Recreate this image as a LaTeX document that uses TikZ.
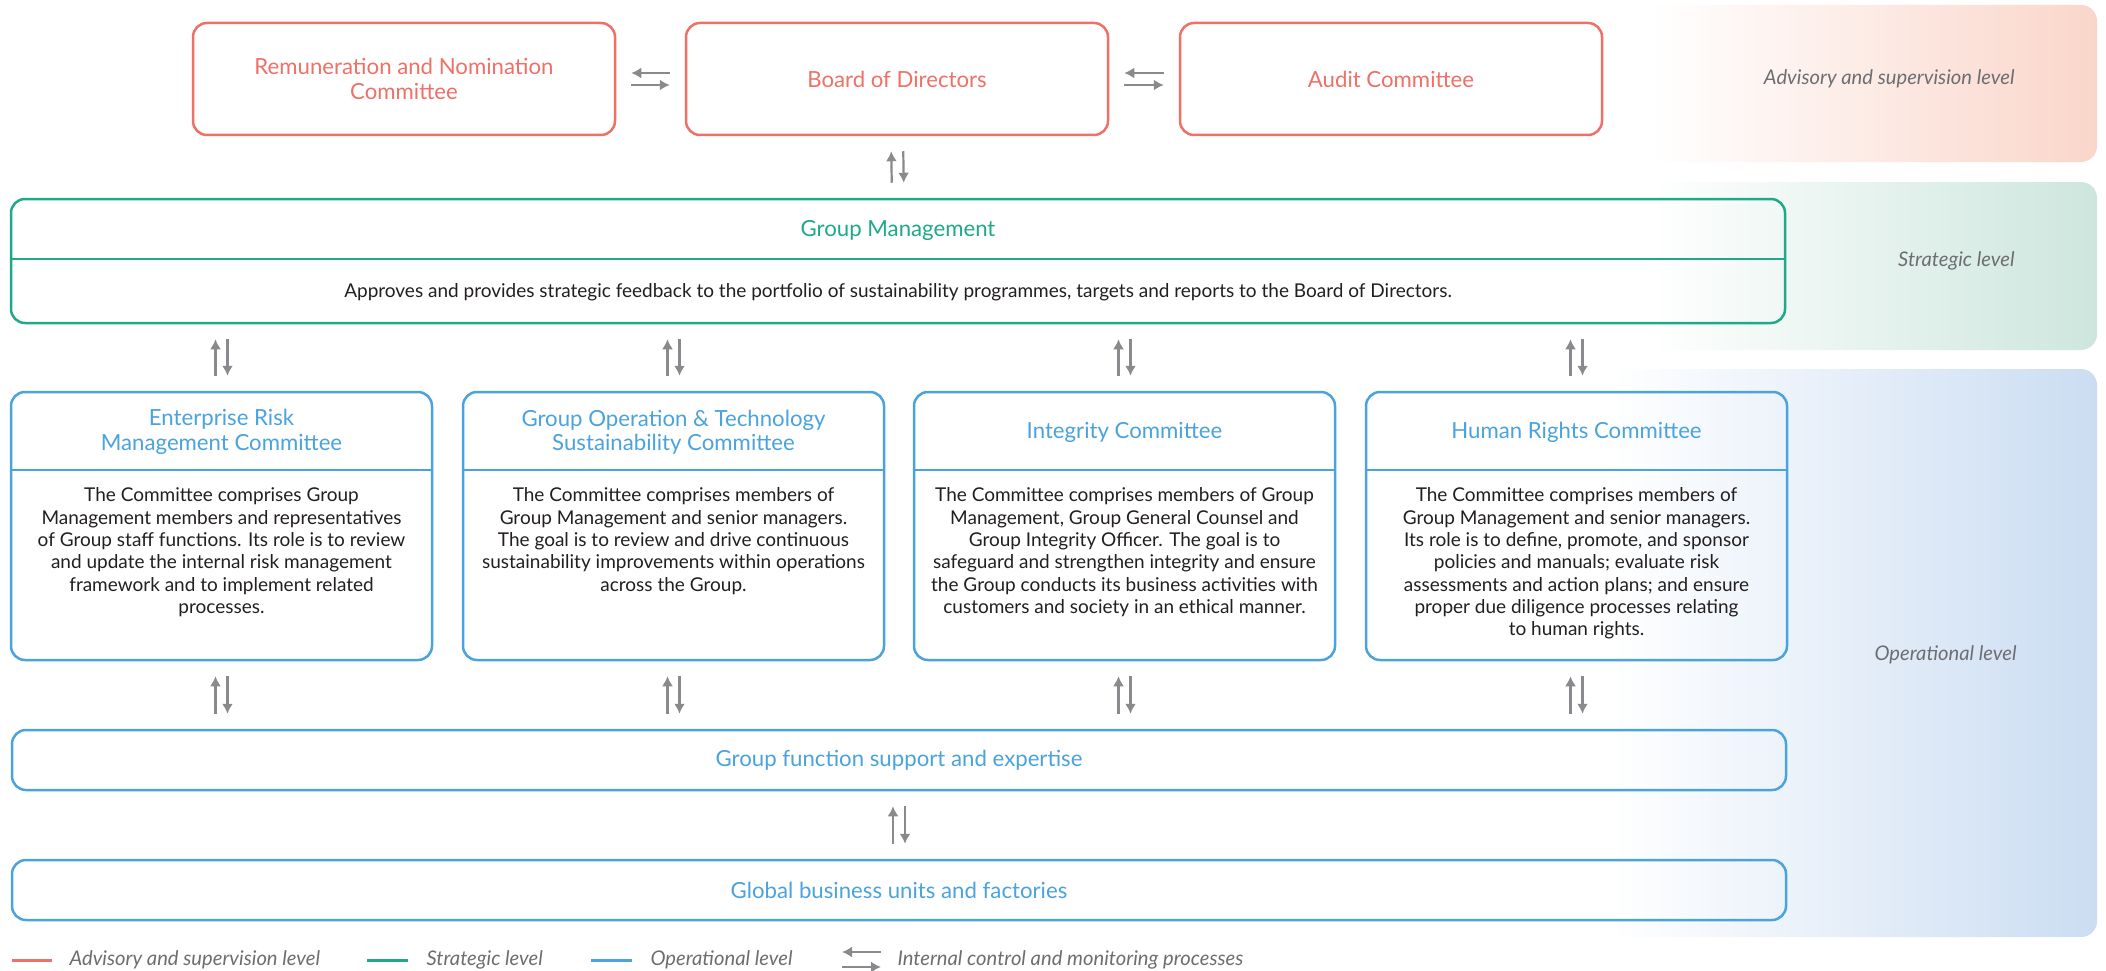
\documentclass[tikz,border=0pt]{standalone}
\usepackage{fontspec}
\setmainfont{Lato}
\usepackage{xcolor}
\usetikzlibrary{arrows.meta}
\definecolor{rouge}{HTML}{EF7066}
\definecolor{vert}{HTML}{1EA98A}
\definecolor{bleu}{HTML}{4AA3DD}
\definecolor{noir}{HTML}{231F20}
\definecolor{gristexte}{HTML}{6E6E72}
\definecolor{grisfleche}{HTML}{8A8A8E}
\definecolor{fondrouge}{HTML}{FAD6CA}
\definecolor{fondvert}{HTML}{CDE6DD}
\definecolor{fondbleu}{HTML}{CBDDF2}
\begin{document}
\begin{tikzpicture}[x=1pt,y=-1pt]
% Styles (MODIFIABLES)
\tikzstyle{fleche}=[-{Latex[length=10pt,width=11pt]},line width=2.2pt,draw=grisfleche,shorten <=15pt,shorten >=15pt]
\tikzstyle{boite}=[draw,rounded corners=14pt,line width=2.5pt,inner sep=0pt]
\tikzstyle{titre}=[font=\fontsize{22.2}{24.5}\selectfont,align=center]
\tikzstyle{texte}=[font=\fontsize{19}{22.3}\selectfont,align=center,text=noir,inner sep=0pt]
\tikzstyle{niveau}=[font=\fontsize{20.2}{22}\selectfont\itshape,text=gristexte]
\tikzstyle{bande}=[rounded corners=16pt]
\tikzstyle{trait}=[line width=3pt]
% Dimensions (MODIFIABLES)
\def\LargeurHaut{422pt}
\def\HauteurHaut{112pt}
\def\LargeurComite{421pt}
\def\HauteurComite{268pt}
\def\LargeurLarge{1774pt}
\def\Ecart{6pt}
% Cadre
\fill[white] (0,0) rectangle (2106,971);
\useasboundingbox (0,0) rectangle (2106,971);
% Bandes des niveaux
\shade[bande,left color=white,right color=fondrouge] (1650,5) rectangle (2097,162);
\shade[bande,left color=white,right color=fondvert] (1650,182) rectangle (2097,350);
\shade[bande,left color=white,right color=fondbleu] (1610,369) rectangle (2097,937);
\node[niveau,anchor=east] (NivA) at (2018,79) {Advisory and supervision level};
\node[niveau,anchor=east] (NivS) at (2018,261) {Strategic level};
\node[niveau,anchor=east] (NivO) at (2020,655) {Operational level};
% Noeuds (MODIFIABLES)
\node[boite,draw=rouge,titre,text=rouge,minimum width=\LargeurHaut,minimum height=\HauteurHaut] (Rem) at (404,79) {Remuneration and Nomination\\Committee};
\node[boite,draw=rouge,titre,text=rouge,minimum width=\LargeurHaut,minimum height=\HauteurHaut] (Board) at (897,79) {Board of Directors};
\node[boite,draw=rouge,titre,text=rouge,minimum width=\LargeurHaut,minimum height=\HauteurHaut] (Audit) at (1391,79) {Audit Committee};
\node[boite,draw=vert,minimum width=\LargeurLarge,minimum height=124pt] (GM) at (898,261) {};
\node[titre,text=vert] (GMt) at (898,230) {Group Management};
\node[texte] (GMx) at (898,292) {Approves and provides strategic feedback to the portfolio of sustainability programmes, targets and reports to the Board of Directors.};
\draw[vert,line width=2.5pt] ([yshift=-61pt]GM.north west) -- ([yshift=-61pt]GM.north east);
\node[boite,draw=bleu,minimum width=\LargeurComite,minimum height=\HauteurComite] (ERM) at (221.5,526) {};
\node[boite,draw=bleu,minimum width=\LargeurComite,minimum height=\HauteurComite] (GOT) at (673.5,526) {};
\node[boite,draw=bleu,minimum width=\LargeurComite,minimum height=\HauteurComite] (Integ) at (1124.5,526) {};
\node[boite,draw=bleu,minimum width=\LargeurComite,minimum height=\HauteurComite] (HR) at (1576.5,526) {};
\node[titre,text=bleu] (ERMt) at (221.5,432) {Enterprise Risk\\Management Committee};
\node[titre,text=bleu] (GOTt) at (673.5,432) {Group Operation \& Technology\\Sustainability Committee};
\node[titre,text=bleu] (Integt) at (1124.5,432) {Integrity Committee};
\node[titre,text=bleu] (HRt) at (1576.5,432) {Human Rights Committee};
\draw[bleu,line width=2.5pt] ([yshift=-79pt]ERM.north west) -- ([yshift=-79pt]ERM.north east);
\draw[bleu,line width=2.5pt] ([yshift=-79pt]GOT.north west) -- ([yshift=-79pt]GOT.north east);
\draw[bleu,line width=2.5pt] ([yshift=-79pt]Integ.north west) -- ([yshift=-79pt]Integ.north east);
\draw[bleu,line width=2.5pt] ([yshift=-79pt]HR.north west) -- ([yshift=-79pt]HR.north east);
\node[texte,anchor=north] (ERMx) at ([yshift=-97pt]ERM.north) {The Committee comprises Group\\Management members and representatives\\of Group staff functions. Its role is to review\\and update the internal risk management\\framework and to implement related\\processes.};
\node[texte,anchor=north] (GOTx) at ([yshift=-97pt]GOT.north) {The Committee comprises members of\\Group Management and senior managers.\\The goal is to review and drive continuous\\sustainability improvements within operations\\across the Group.};
\node[texte,anchor=north] (Integx) at ([yshift=-97pt]Integ.north) {The Committee comprises members of Group\\Management, Group General Counsel and\\Group Integrity Officer. The goal is to\\safeguard and strengthen integrity and ensure\\the Group conducts its business activities with\\customers and society in an ethical manner.};
\node[texte,anchor=north] (HRx) at ([yshift=-97pt]HR.north) {The Committee comprises members of\\Group Management and senior managers.\\Its role is to define, promote, and sponsor\\policies and manuals; evaluate risk\\assessments and action plans; and ensure\\proper due diligence processes relating\\to human rights.};
\node[boite,draw=bleu,titre,text=bleu,minimum width=\LargeurLarge,minimum height=60pt] (GF) at (899,760) {Group function support and expertise};
\node[boite,draw=bleu,titre,text=bleu,minimum width=\LargeurLarge,minimum height=60pt] (GBU) at (899,890) {Global business units and factories};
% Arcs (MODIFIABLES)
\draw[fleche] ([yshift=\Ecart]Board.west) -- ([yshift=\Ecart]Rem.east);
\draw[fleche] ([yshift=-\Ecart]Rem.east) -- ([yshift=-\Ecart]Board.west);
\draw[fleche] ([yshift=\Ecart]Audit.west) -- ([yshift=\Ecart]Board.east);
\draw[fleche] ([yshift=-\Ecart]Board.east) -- ([yshift=-\Ecart]Audit.west);
\draw[fleche] ([xshift=-\Ecart]GM.north) -- ([xshift=-\Ecart]Board.south);
\draw[fleche] ([xshift=\Ecart]Board.south) -- ([xshift=\Ecart]GM.north);
\draw[fleche] ([xshift=-\Ecart]ERM.north) -- ([xshift=-\Ecart]ERM.north |- GM.south);
\draw[fleche] ([xshift=\Ecart]ERM.north |- GM.south) -- ([xshift=\Ecart]ERM.north);
\draw[fleche] ([xshift=-\Ecart]GOT.north) -- ([xshift=-\Ecart]GOT.north |- GM.south);
\draw[fleche] ([xshift=\Ecart]GOT.north |- GM.south) -- ([xshift=\Ecart]GOT.north);
\draw[fleche] ([xshift=-\Ecart]Integ.north) -- ([xshift=-\Ecart]Integ.north |- GM.south);
\draw[fleche] ([xshift=\Ecart]Integ.north |- GM.south) -- ([xshift=\Ecart]Integ.north);
\draw[fleche] ([xshift=-\Ecart]HR.north) -- ([xshift=-\Ecart]HR.north |- GM.south);
\draw[fleche] ([xshift=\Ecart]HR.north |- GM.south) -- ([xshift=\Ecart]HR.north);
\draw[fleche] ([xshift=-\Ecart]ERM.south |- GF.north) -- ([xshift=-\Ecart]ERM.south);
\draw[fleche] ([xshift=\Ecart]ERM.south) -- ([xshift=\Ecart]ERM.south |- GF.north);
\draw[fleche] ([xshift=-\Ecart]GOT.south |- GF.north) -- ([xshift=-\Ecart]GOT.south);
\draw[fleche] ([xshift=\Ecart]GOT.south) -- ([xshift=\Ecart]GOT.south |- GF.north);
\draw[fleche] ([xshift=-\Ecart]Integ.south |- GF.north) -- ([xshift=-\Ecart]Integ.south);
\draw[fleche] ([xshift=\Ecart]Integ.south) -- ([xshift=\Ecart]Integ.south |- GF.north);
\draw[fleche] ([xshift=-\Ecart]HR.south |- GF.north) -- ([xshift=-\Ecart]HR.south);
\draw[fleche] ([xshift=\Ecart]HR.south) -- ([xshift=\Ecart]HR.south |- GF.north);
\draw[fleche] ([xshift=-\Ecart]GBU.north) -- ([xshift=-\Ecart]GF.south);
\draw[fleche] ([xshift=\Ecart]GF.south) -- ([xshift=\Ecart]GBU.north);
% Legende
\coordinate (LRa) at (12,960); \coordinate (LRb) at (52,960);
\coordinate (LVa) at (367,960); \coordinate (LVb) at (408,960);
\coordinate (LBa) at (591,960); \coordinate (LBb) at (632,960);
\coordinate (LFa) at (842,952); \coordinate (LFb) at (881,952);
\coordinate (LFc) at (842,967); \coordinate (LFd) at (881,967);
\draw[trait,rouge] (LRa) -- (LRb);
\draw[trait,vert] (LVa) -- (LVb);
\draw[trait,bleu] (LBa) -- (LBb);
\draw[fleche,shorten <=0pt,shorten >=0pt] (LFb) -- (LFa);
\draw[fleche,shorten <=0pt,shorten >=0pt] (LFc) -- (LFd);
\node[niveau,anchor=west] (LR) at (66,960) {Advisory and supervision level};
\node[niveau,anchor=west] (LV) at (423,960) {Strategic level};
\node[niveau,anchor=west] (LB) at (647,960) {Operational level};
\node[niveau,anchor=west] (LF) at (894,960) {Internal control and monitoring processes};
\end{tikzpicture}
\end{document}
